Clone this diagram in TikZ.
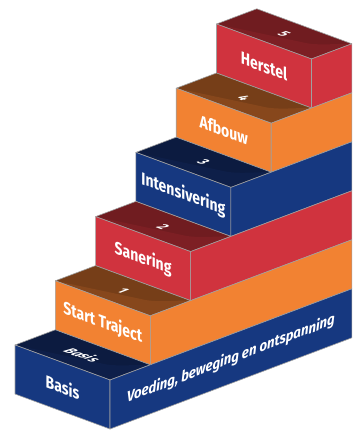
\documentclass[tikz,border=0pt]{standalone}
\usepackage{fontspec}
\setmainfont{Fira Sans}
\usetikzlibrary{calc}
\definecolor{bl}{RGB}{22,56,128}
\definecolor{bltop}{RGB}{12,27,64}
\definecolor{or}{RGB}{242,130,50}
\definecolor{ortop}{RGB}{118,62,24}
\definecolor{rd}{RGB}{208,51,62}
\definecolor{rdtop}{RGB}{112,28,32}
\definecolor{edgegray}{RGB}{160,160,160}
\tikzset{
  edge/.style={draw=edgegray, line width=0.6pt, line join=round},
  fronttext/.style={text=white, inner sep=0pt,
    font=\bfseries\fontsize{17.5}{17.5}\selectfont, cm={0.8,-0.2944,0,1,(0,0)}},
  toptext/.style={text=white, inner sep=0pt,
    font=\bfseries\fontsize{12}{12}\selectfont, cm={1.05,-0.386,1.1,0.415,(0,0)}},
  sidetext/.style={text=white, inner sep=0pt,
    font=\bfseries\itshape\fontsize{15}{15}\selectfont, cm={0.88,0.332,0,1,(0,0)}},
}
\begin{document}
\begin{tikzpicture}[x=1pt,y=-1pt]
\useasboundingbox (0,0) rectangle (360,430);
\foreach \k/\fc/\tc/\lbl/\num in {5/rd/rdtop/Herstel/5, 4/or/ortop/Afbouw/4, 3/bl/bltop/Intensivering/3, 2/rd/rdtop/Sanering/2, 1/or/ortop/Start Traject/1, 0/bl/bltop/Basis/{\itshape Basis}}{
  \pgfmathsetmacro\px{15+40.3*\k}
  \pgfmathsetmacro\py{345-64.2*\k}
  \pgfmathsetmacro\dx{40.3*(6-\k)}
  \pgfmathsetmacro\dy{15.2*(6-\k)}
  \begin{scope}[shift={(\px,\py)}]
    % top strip
    \fill[\tc] (0,0) -- (95,35) -- (135.3,19.8) -- (40.3,-15.2) -- cycle;
    \fill[\tc!86!\fc] (0,0) -- (86.5,18.4) .. controls (100.9,22.15) and (121.7,19.3) .. (135.3,19.8) -- (95,35) -- cycle;
    \draw[edge] (0,0) -- (95,35) -- (135.3,19.8) -- (40.3,-15.2) -- cycle;
    % front face
    \filldraw[fill=\fc, edge] (0,0) -- (95,35) -- (95,84) -- (0,49) -- cycle;
    % side face
    \filldraw[fill=\fc, edge] (95,35) -- ({95+\dx},{35-\dy}) -- ({95+\dx},{84-\dy}) -- (95,84) -- cycle;
    \node[fronttext] (lbl\k) at (47.5,42) {\lbl};
    \node[toptext] (num\k) at (67.65,9.9) {\num};
  \end{scope}
}
\node[sidetext] (side) at (230.9,358.9) {Voeding, beweging en ontspanning};
\end{tikzpicture}
\end{document}
